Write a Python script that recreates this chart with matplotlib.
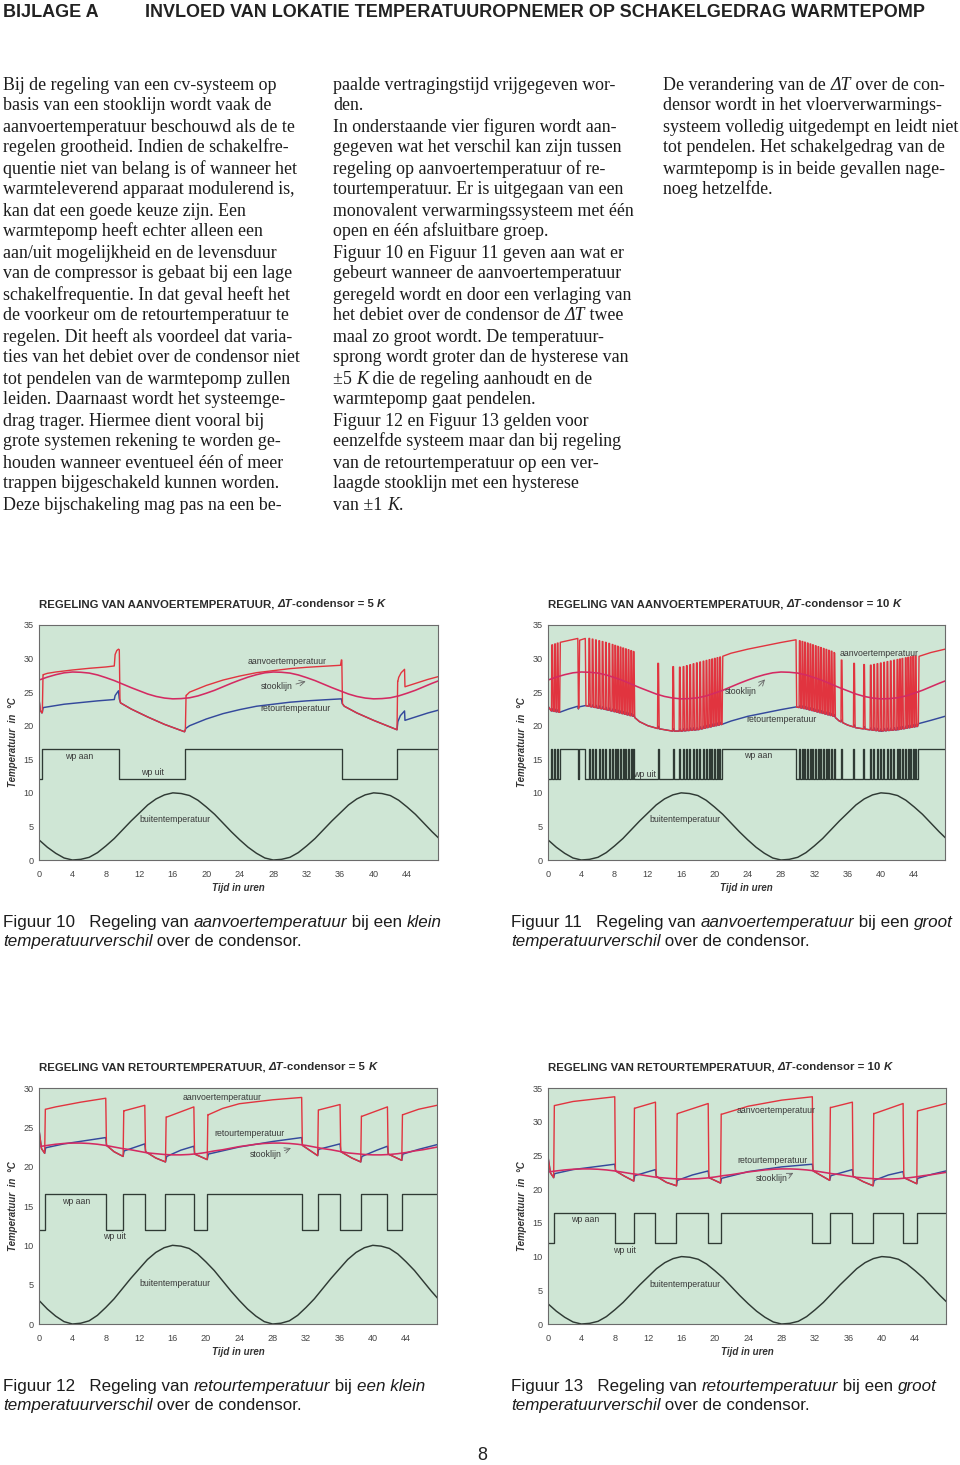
import numpy as np
import matplotlib
matplotlib.use('Agg')
import matplotlib.pyplot as plt
from matplotlib.font_manager import FontProperties

W, H = 960, 1465

# ---------------- chart data ----------------
buiten_dag = [3.0, 1.9, 1.0, 0.3, 0.0, 0.1, 0.4, 1.1, 2.1, 3.2, 4.5, 5.8,
              7.0, 8.2, 9.1, 9.7, 10.0, 9.9, 9.6, 8.9, 7.9, 6.8, 5.5, 4.2]
stook_hoog_dag = [26.8, 27.24, 27.6, 27.88, 28.0, 27.96, 27.84, 27.56, 27.16, 26.72, 26.2, 25.68,
                  25.2, 24.72, 24.36, 24.12, 24.0, 24.04, 24.16, 24.44, 24.84, 25.28, 25.8, 26.32]
stook_laag_dag = [22.55, 22.7, 22.85, 22.95, 23.0, 23.0, 22.95, 22.85, 22.7, 22.5, 22.3, 22.15,
                  21.95, 21.75, 21.65, 21.55, 21.5, 21.5, 21.55, 21.65, 21.8, 22.0, 22.15, 22.35]
uren = np.arange(0, 49)
buiten = buiten_dag * 2 + buiten_dag[:1]
stook_hoog = stook_hoog_dag * 2 + stook_hoog_dag[:1]
stook_laag = stook_laag_dag * 2 + stook_laag_dag[:1]

wp_laag, wp_hoog = 12.0, 16.5

# Figuur 10 - aanvoer, dT = 5 K
f10_on = [(0.4, 9.6), (17.5, 36.2), (42.8, 48.0)]
f10_pulsen = []
f10_aanvoer = [(0.5, 27.6), (1, 27.8), (2, 28.0), (4, 28.3), (6, 28.55), (8, 28.75), (9.0, 28.9),
               (9.1, 30.6), (9.3, 31.2), (9.5, 31.4), (17.6, 24.5), (18, 25.0), (20, 26.0),
               (22, 26.8), (24, 27.4), (26, 27.9), (28, 28.2), (30, 28.5), (32, 28.7), (34, 28.85),
               (36.05, 29.0), (36.15, 29.8), (42.9, 26.6), (43.0, 27.2), (43.3, 27.9), (43.7, 28.4),
               (43.75, 25.8), (45, 26.3), (46.5, 26.9), (47.7, 27.3)]
f10_retour = [(0, 24.0), (0.15, 22.3), (0.35, 21.9), (0.4, 22.0), (0.5, 22.7), (1, 22.8), (3, 23.2),
              (5, 23.45), (7, 23.7), (9.0, 23.9), (9.1, 24.5), (9.5, 25.2), (9.6, 24.0), (9.75, 23.4),
              (11, 22.5), (13, 21.3), (15, 20.2), (17.4, 19.1), (17.55, 19.6), (18, 20.0), (20, 21.0),
              (22, 21.8), (24, 22.4), (26, 22.9), (28, 23.2), (30, 23.5), (32, 23.7), (34, 23.85),
              (36.15, 24.0), (36.25, 23.3), (36.5, 22.9), (38, 21.9), (40, 20.8), (42.8, 19.4),
              (42.9, 20.6), (43.2, 21.5), (43.7, 22.2), (43.75, 20.8), (45, 21.3), (46.5, 21.9),
              (47.7, 22.3)]

# Figuur 11 - aanvoer, dT = 10 K
f11_on = [(1.40, 3.58), (3.72, 4.48), (20.92, 29.80), (44.50, 48.0)]
f11_pulsen = [0.42, 0.76, 1.08,
              4.88, 5.28, 5.68, 6.08, 6.48, 6.88, 7.28, 7.68, 8.00, 8.32, 8.64, 8.96, 9.28, 9.60,
              9.92, 10.22, 13.16, 14.96,
              15.76, 16.20, 16.60, 17.00, 17.40, 17.80, 18.20, 18.60, 18.96, 19.32, 19.64, 19.96,
              20.28, 20.60,
              30.17, 30.49, 30.80, 31.13, 31.45, 31.76, 32.09, 32.41, 32.72, 33.05, 33.37, 33.69,
              34.00, 34.33, 35.20, 36.70, 37.90,
              38.70, 39.10, 39.50, 39.90, 40.30, 40.70, 41.10, 41.50, 41.90, 42.20, 42.50, 42.90,
              43.20, 43.50, 43.80, 44.10]
f11_aanvoer = [(0, 31.5), (0.4, 32.0), (1.4, 32.4), (3.58, 33.0), (3.72, 32.7), (4.48, 33.0),
               (5, 33.0), (7, 32.4), (10.2, 31.1), (13.2, 29.3), (15.0, 28.8), (16, 28.7),
               (18, 29.4), (20.6, 30.2), (20.9, 30.3), (22, 30.8), (24, 31.4), (26, 31.9),
               (28, 32.4), (29.8, 32.8), (31, 32.4), (34.3, 31.0), (35.2, 29.8), (36.7, 29.3),
               (38.7, 29.0), (41, 29.6), (44.1, 30.4), (44.5, 30.3), (46, 30.9), (47.7, 31.4)]
f11_retour = [(0, 22.9), (0.4, 22.2), (1.4, 22.0), (2.5, 22.5), (3.58, 22.9), (3.65, 22.5),
              (3.72, 22.8), (4.48, 23.0), (7, 22.4), (10.25, 21.4), (11, 20.6), (12, 20.0),
              (13.1, 19.6), (14.9, 19.2), (16, 19.2), (18, 19.4), (20.9, 20.2), (22, 20.7),
              (24, 21.4), (26, 21.9), (28, 22.4), (29.8, 22.8), (31, 22.5), (34.35, 21.4),
              (35, 20.7), (36, 20.1), (37, 19.7), (38.6, 19.4), (40, 19.2), (42, 19.4),
              (44.4, 19.9), (44.5, 20.3), (46, 20.8), (47.7, 21.4)]

# Figuur 12 - retour, dT = 5 K
f12_on = [(0.68, 8.0), (10.08, 12.68), (15.16, 18.56), (20.16, 31.48), (33.4, 36.08),
          (38.56, 41.76), (43.48, 48.0)]
f12_pulsen = []
f12_aanvoer = [(0.8, 27.3), (2, 27.6), (5, 28.2), (8.0, 28.7), (10.2, 27.1), (12.68, 27.8),
               (15.3, 26.3), (18.56, 27.6), (20.3, 26.6), (22, 27.4), (24, 28.0), (28, 28.5),
               (31.48, 28.8), (33.5, 27.2), (36.08, 27.9), (38.7, 26.4), (41.76, 27.6),
               (43.6, 26.6), (45.5, 27.3), (47.7, 27.8)]
f12_retour = [(0, 24.7), (0.3, 22.3), (0.68, 21.7), (0.8, 22.4), (3, 22.9), (5.5, 23.3), (8.0, 23.7),
              (8.1, 22.7), (9, 21.9), (10.08, 21.3), (10.2, 22.0), (12.68, 22.9), (12.78, 21.9),
              (14, 21.1), (15.16, 20.6), (15.3, 21.3), (17, 22.1), (18.56, 22.6), (18.66, 21.6),
              (20.16, 20.9), (20.3, 21.6), (24, 22.5), (28, 23.2), (31.48, 23.7), (31.58, 22.7),
              (33.4, 21.4), (33.5, 22.2), (36.08, 22.9), (36.18, 21.9), (37.5, 21.1),
              (38.56, 20.6), (38.7, 21.3), (40.5, 22.1), (41.76, 22.6), (41.86, 21.6),
              (43.48, 20.8), (43.6, 21.6), (45.5, 22.2), (47.7, 22.8)]

# Figuur 13 - retour, dT = 10 K
f13_on = [(0.68, 8.0), (10.28, 12.88), (15.4, 19.2), (20.68, 31.68), (33.76, 36.48),
          (38.96, 42.56), (44.2, 48.0)]
f13_pulsen = []
f13_aanvoer = [(0.8, 32.4), (3, 33.0), (8.0, 33.7), (10.4, 32.0), (12.88, 32.9), (15.5, 31.2),
               (19.2, 32.7), (20.8, 31.1), (24, 32.3), (28, 33.2), (31.68, 33.7), (33.9, 32.1),
               (36.48, 32.9), (39.1, 31.2), (42.56, 32.7), (44.3, 31.6), (47.7, 32.7)]
f13_retour = [(0, 24.8), (0.3, 22.4), (0.68, 21.7), (0.8, 22.3), (3, 22.9), (5.5, 23.3), (8.0, 23.7),
              (8.1, 22.7), (9.2, 21.9), (10.28, 21.2), (10.4, 22.0), (12.88, 22.9), (12.98, 21.9),
              (14.2, 21.0), (15.4, 20.5), (15.5, 21.3), (17.3, 22.1), (19.2, 22.7), (19.3, 21.7),
              (20.68, 20.9), (20.8, 21.6), (24, 22.6), (28, 23.3), (31.68, 23.7), (31.78, 22.7),
              (33.76, 21.3), (33.9, 22.0), (36.48, 22.9), (36.58, 21.9), (37.8, 21.1),
              (38.96, 20.5), (39.1, 21.3), (40.8, 22.1), (42.56, 22.6), (42.66, 21.7),
              (44.2, 20.8), (44.3, 21.6), (46, 22.2), (47.7, 22.7)]

# ---------------- page text ----------------
kop_links = "BIJLAGE A"
kop = "INVLOED VAN LOKATIE TEMPERATUUROPNEMER OP SCHAKELGEDRAG WARMTEPOMP"
kol1 = ["Bij de regeling van een cv-systeem op",
        "basis van een stooklijn wordt vaak de",
        "aanvoertemperatuur beschouwd als de te",
        "regelen grootheid. Indien de schakelfre-",
        "quentie niet van belang is of wanneer het",
        "warmteleverend apparaat modulerend is,",
        "kan dat een goede keuze zijn. Een",
        "warmtepomp heeft echter alleen een",
        "aan/uit mogelijkheid en de levensduur",
        "van de compressor is gebaat bij een lage",
        "schakelfrequentie. In dat geval heeft het",
        "de voorkeur om de retourtemperatuur te",
        "regelen. Dit heeft als voordeel dat varia-",
        "ties van het debiet over de condensor niet",
        "tot pendelen van de warmtepomp zullen",
        "leiden. Daarnaast wordt het systeemge-",
        "drag trager. Hiermee dient vooral bij",
        "grote systemen rekening te worden ge-",
        "houden wanneer eventueel één of meer",
        "trappen bijgeschakeld kunnen worden.",
        "Deze bijschakeling mag pas na een be-"]
kol2 = ["paalde vertragingstijd vrijgegeven wor-",
        "den.",
        "In onderstaande vier figuren wordt aan-",
        "gegeven wat het verschil kan zijn tussen",
        "regeling op aanvoertemperatuur of re-",
        "tourtemperatuur. Er is uitgegaan van een",
        "monovalent verwarmingssysteem met één",
        "open en één afsluitbare groep.",
        "Figuur 10 en Figuur 11 geven aan wat er",
        "gebeurt wanneer de aanvoertemperatuur",
        "geregeld wordt en door een verlaging van",
        "het debiet over de condensor de *ΔT* twee",
        "maal zo groot wordt. De temperatuur-",
        "sprong wordt groter dan de hysterese van",
        "±5 *K* die de regeling aanhoudt en de",
        "warmtepomp gaat pendelen.",
        "Figuur 12 en Figuur 13 gelden voor",
        "eenzelfde systeem maar dan bij regeling",
        "van de retourtemperatuur op een ver-",
        "laagde stooklijn met een hysterese",
        "van ±1 *K*."]
kol3 = ["De verandering van de *ΔT* over de con-",
        "densor wordt in het vloerverwarmings-",
        "systeem volledig uitgedempt en leidt niet",
        "tot pendelen. Het schakelgedrag van de",
        "warmtepomp is in beide gevallen nage-",
        "noeg hetzelfde."]

SERIF = ['Liberation Serif', 'DejaVu Serif']
SANS = ['Liberation Sans', 'DejaVu Sans']

ROOD = '#e1343f'
STOOK = '#d42a62'
BLAUW = '#34499c'
DONKER = '#2f3a34'
GROEN = '#cfe6d5'

fig = plt.figure(figsize=(W / 100, H / 100), dpi=100)
renderer = fig.canvas.get_renderer()


def breedte(s, fp):
    w1 = renderer.get_text_width_height_descent('|' + s + '|', fp, ismath=False)[0]
    w0 = renderer.get_text_width_height_descent('||', fp, ismath=False)[0]
    return w1 - w0


def regel_breedte(tekst, family, size, weight='normal'):
    w = 0
    for i, deel in enumerate(tekst.split('*')):
        if deel:
            w += breedte(deel, FontProperties(family=family, size=size, weight=weight,
                                              style='italic' if i % 2 else 'normal'))
    return w


def passend(tekst, family, doel, weight='normal'):
    return 10 * doel / regel_breedte(tekst, family, 10, weight)


def regel(x, y, tekst, family, size, weight='normal', color='#1c1c1c'):
    # parts between * are italic
    for i, deel in enumerate(tekst.split('*')):
        if not deel:
            continue
        fp = FontProperties(family=family, size=size, weight=weight,
                            style='italic' if i % 2 else 'normal')
        fig.text(x / W, 1 - y / H, deel, fontproperties=fp, color=color,
                 ha='left', va='baseline')
        x += breedte(deel, fp)


# header
kop_size = passend(kop, SANS, 775, 'bold')
regel(3, 17, kop_links, SANS, kop_size, weight='bold', color='#222')
regel(145, 17, kop, SANS, kop_size, weight='bold', color='#222')

for x0, kol in [(3, kol1), (333, kol2), (663, kol3)]:
    for n, tekst in enumerate(kol):
        regel(x0, 89.5 + 21 * n, tekst, SERIF, 12.9)


def curves(on, pulsen, aanvoer, retour):
    at, aT = np.array(aanvoer).T
    rt, rT = np.array(retour).T
    top = lambda t: np.interp(t, at, aT)
    ret = lambda t: np.interp(t, rt, rT)
    spans = sorted(list(on) + [(p, p + 0.12) for p in pulsen])
    rood = [(t, v) for t, v in retour if not any(s <= t <= e + 0.08 for s, e in spans)]
    blauw = list(retour)
    for s, e in spans:
        rise = min(0.08, (e - s) / 3)
        rood += [(s, ret(s)), (s + rise, top(s + rise))]
        rood += [(t, v) for t, v in aanvoer if s + rise < t < e]
        rood += [(e, top(e)), (e + 0.08, ret(e + 0.08))]
        if e - s < 0.5:
            blauw += [(s + 0.001, ret(s)), (e, ret(e) + 0.35), (e + 0.08, ret(e + 0.08))]
    rood.sort(key=lambda p: p[0])
    blauw.sort(key=lambda p: p[0])
    wx, wy = [0], [wp_laag]
    for s, e in spans:
        wx += [s, s, e, e]
        wy += [wp_laag, wp_hoog, wp_hoog, wp_laag]
    return np.array(rood).T, np.array(blauw).T, (wx, wy)


def grafiek(box, ymax, titel, on, pulsen, aanvoer, retour, stook, labels):
    left, top, right, bottom = box
    ax = fig.add_axes([left / W, 1 - bottom / H, (right - left) / W, (bottom - top) / H])
    ax.set_facecolor(GROEN)
    rood, blauw, wp = curves(on, pulsen, aanvoer, retour)
    ax.plot(uren, buiten, color=DONKER, lw=1.05)
    ax.plot(wp[0], wp[1], color=DONKER, lw=0.95)
    ax.plot(blauw[0], blauw[1], color=BLAUW, lw=1.05)
    ax.plot(rood[0], rood[1], color=ROOD, lw=1.0)
    ax.plot(uren, stook, color=STOOK, lw=1.15)
    ax.set_xlim(0, 47.7)
    ax.set_ylim(0, ymax)
    ax.set_xticks(range(0, 45, 4))
    ax.set_yticks(range(0, ymax + 1, 5))
    ax.tick_params(length=0, labelsize=6.6, labelcolor='#444', pad=4)
    ax.tick_params(axis='x', pad=7)
    for t in ax.get_xticklabels() + ax.get_yticklabels():
        t.set_fontfamily(SANS)
    for sp in ax.spines.values():
        sp.set_color('#6b6b6b')
        sp.set_linewidth(0.8)
    for tekst, (tx, ty) in labels.items():
        ax.text(tx, ty, tekst, ha='center', va='center', fontsize=6.3,
                color='#3a3a3a', fontfamily=SANS)
    ax.text(0.5, -(888 - 860) / (bottom - top), 'Tijd in uren', transform=ax.transAxes,
            ha='center', va='center', fontsize=7, fontweight='bold', fontstyle='italic',
            color='#333', fontfamily=SANS)
    ax.text(-26 / (right - left), 0.5, 'Temperatuur  in  °C', transform=ax.transAxes,
            ha='center', va='center', rotation=90, fontsize=7, fontweight='bold',
            fontstyle='italic', color='#333', fontfamily=SANS)
    regel(left, top - 18, titel, SANS, 8.2, weight='bold', color='#2b2b2b')
    return ax


ax10 = grafiek((39, 625, 438, 860), 35,
               "REGELING VAN AANVOERTEMPERATUUR, *ΔT*-condensor = 5 *K*",
               f10_on, f10_pulsen, f10_aanvoer, f10_retour, stook_hoog,
               {'aanvoertemperatuur': (29.7, 29.6), 'stooklijn': (28.4, 25.8),
                'retourtemperatuur': (30.7, 22.5), 'wp aan': (4.8, 15.4),
                'wp uit': (13.6, 13.0), 'buitentemperatuur': (16.3, 6.0)})
ax10.annotate('', xy=(32.2, 26.7), xytext=(30.4, 26.1),
              arrowprops=dict(arrowstyle='->', color='#666', lw=0.6))

ax11 = grafiek((548, 625, 945, 860), 35,
               "REGELING VAN AANVOERTEMPERATUUR, *ΔT*-condensor = 10 *K*",
               f11_on, f11_pulsen, f11_aanvoer, f11_retour, stook_hoog,
               {'aanvoertemperatuur': (39.8, 30.8), 'stooklijn': (23.2, 25.1),
                'retourtemperatuur': (28.0, 21.0), 'wp aan': (25.3, 15.5),
                'wp uit': (11.6, 12.8), 'buitentemperatuur': (16.4, 6.0)})
ax11.annotate('', xy=(26.3, 27.2), xytext=(25.1, 25.6),
              arrowprops=dict(arrowstyle='->', color='#666', lw=0.6))

ax12 = grafiek((39, 1088, 437, 1324), 30,
               "REGELING VAN RETOURTEMPERATUUR, *ΔT*-condensor = 5 *K*",
               f12_on, f12_pulsen, f12_aanvoer, f12_retour, stook_laag,
               {'aanvoertemperatuur': (21.9, 28.8), 'retourtemperatuur': (25.2, 24.2),
                'stooklijn': (27.2, 21.5), 'wp aan': (4.4, 15.6),
                'wp uit': (9.0, 11.1), 'buitentemperatuur': (16.3, 5.1)})
ax12.annotate('', xy=(30.5, 22.5), xytext=(29.1, 21.9),
              arrowprops=dict(arrowstyle='->', color='#666', lw=0.6))

ax13 = grafiek((548, 1088, 946, 1324), 35,
               "REGELING VAN RETOURTEMPERATUUR, *ΔT*-condensor = 10 *K*",
               f13_on, f13_pulsen, f13_aanvoer, f13_retour, stook_laag,
               {'aanvoertemperatuur': (27.3, 31.6), 'retourtemperatuur': (26.9, 24.2),
                'stooklijn': (26.8, 21.6), 'wp aan': (4.4, 15.5),
                'wp uit': (9.2, 10.9), 'buitentemperatuur': (16.4, 5.9)})
ax13.annotate('', xy=(29.7, 22.6), xytext=(28.6, 21.9),
              arrowprops=dict(arrowstyle='->', color='#666', lw=0.6))

# captions
bijschriften = [
    (3, 927, ["Figuur 10   Regeling van *aanvoertemperatuur* bij een *klein*",
              "*temperatuurverschil* over de condensor."]),
    (511, 927, ["Figuur 11   Regeling van *aanvoertemperatuur* bij een *groot*",
                "*temperatuurverschil* over de condensor."]),
    (3, 1391, ["Figuur 12   Regeling van *retourtemperatuur* bij *een klein*",
               "*temperatuurverschil* over de condensor."]),
    (511, 1391, ["Figuur 13   Regeling van *retourtemperatuur* bij een *groot*",
                 "*temperatuurverschil* over de condensor."]),
]
cap_size = passend(bijschriften[0][2][0], SANS, 439)
for x0, y0, regels in bijschriften:
    for n, tekst in enumerate(regels):
        regel(x0, y0 + 19 * n, tekst, SANS, cap_size, color='#1c1c1c')

fig.text(482 / W, 1 - 1455 / H, '8', ha='center', va='center', fontsize=13,
         fontfamily=SANS, color='#222')

fig.savefig('out.png', dpi=100, facecolor='white')
